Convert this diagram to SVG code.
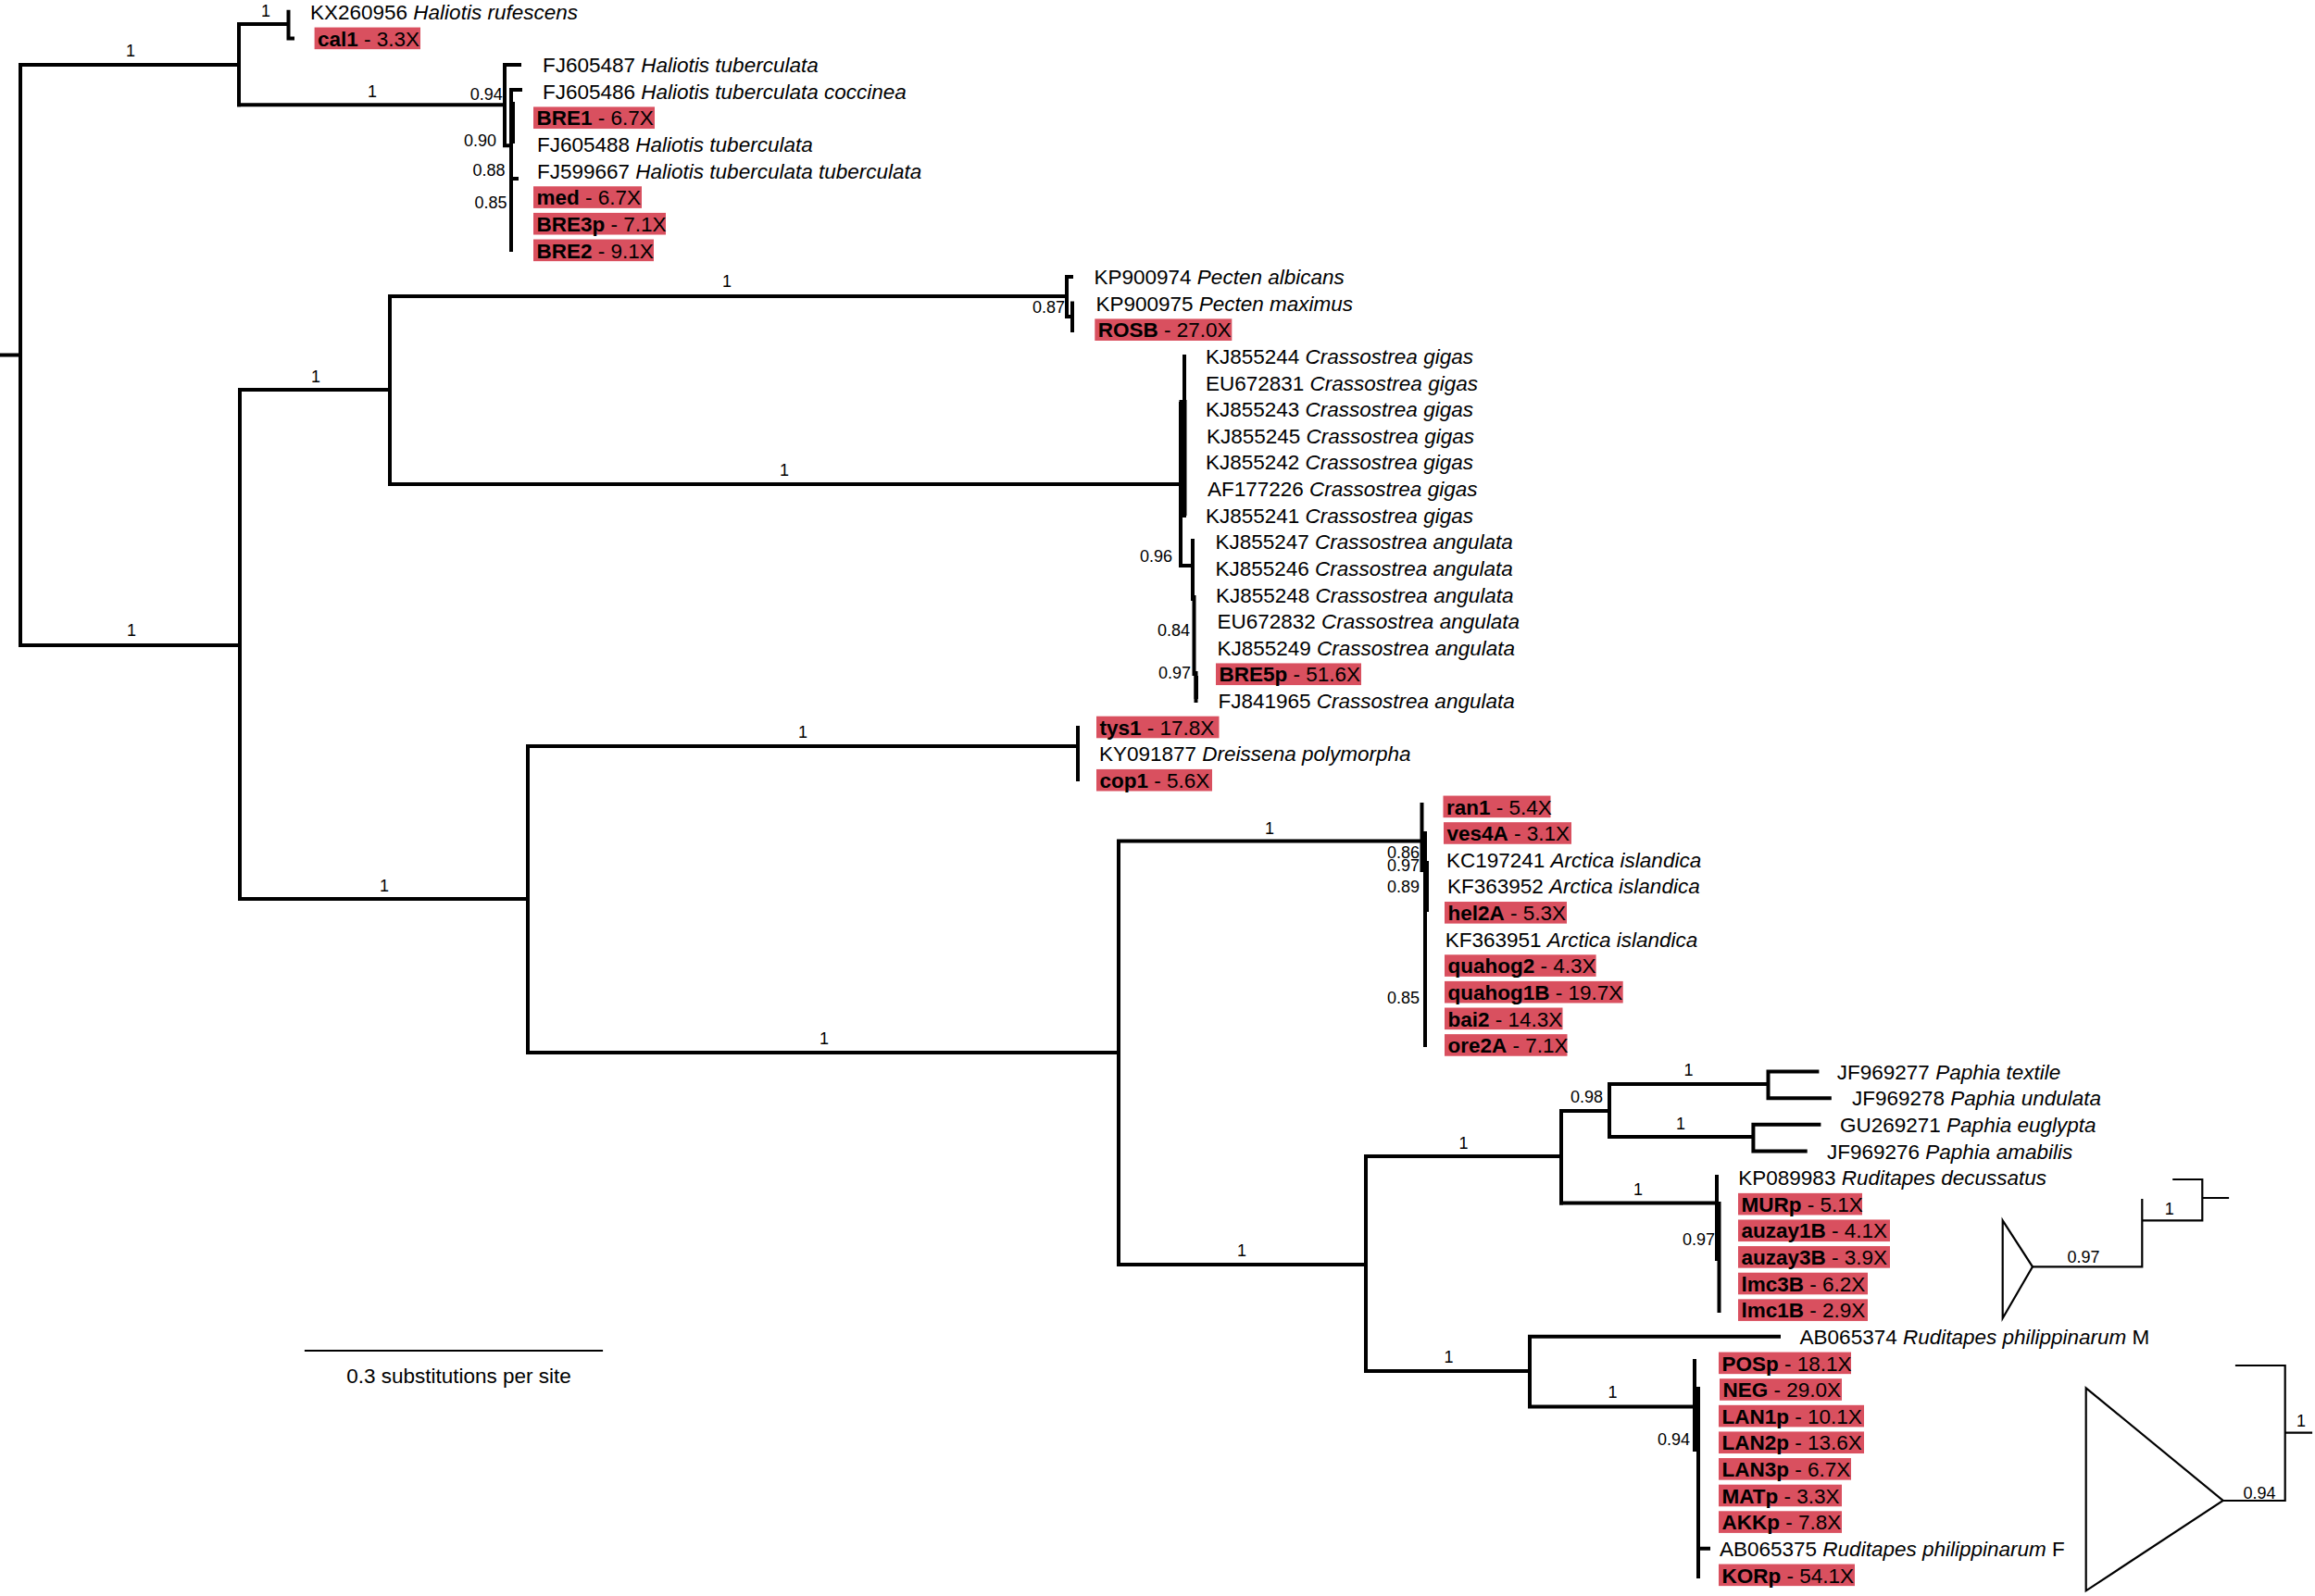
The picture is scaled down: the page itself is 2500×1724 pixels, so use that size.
<svg xmlns="http://www.w3.org/2000/svg" width="2500" height="1724" viewBox="0 0 2500 1724">
<style>
text{font-family:"Liberation Sans",Arial,Helvetica,sans-serif;fill:#000}
.t{font-size:22.5px}
.b{font-weight:bold}
.i{font-style:italic}
.s{font-size:18px}
.m{text-anchor:middle}
.e{text-anchor:end}
.hl{fill:#d9505f}
.br{fill:none;stroke:#000;stroke-width:4;stroke-linecap:square;stroke-linejoin:miter}
.th{fill:#000}
.lg{fill:none;stroke:#000;stroke-width:2.2;stroke-linecap:square}
</style>
<rect width="2500" height="1724" fill="#fff"/>

<g id="branches">
<path class="br" d="M0,383.5H22M22,70V697M22,70H258M22,697H259"/>
<path class="br" d="M258,26V113.3M258,26H311.5M311.5,12.75V41.4M311.5,41.4H316"/>
<path class="br" d="M258,113.3H545M545,70V157.3M545,70H561M545,157.3H552M552,97V270M552,97H562M552,193H558"/>
<rect class="th" x="550" y="110" width="6" height="45"/>
<path class="br" d="M259,421V971M259,421H421M421,320V523M421,320H1152"/>
<path class="br" d="M1152,299V342M1152,299H1157M1152,342H1158M1158,327.6V357"/>
<path class="br" d="M421,523H1275M1275,436V611M1279,385V557M1275,611H1288M1288,584V647M1289.5,645V728M1291.5,727V757"/>
<rect class="th" x="1273.5" y="432" width="8" height="125"/>
<rect class="th" x="1289.5" y="730" width="4.5" height="25"/>
<path class="br" d="M259,971H570M570,806V1137M570,806H1164M1164,786V842"/>
<path class="br" d="M570,1137H1208M1208,908.5V1366M1208,908.5H1535M1535.5,869V940M1539,900V1129"/>
<rect class="th" x="1537" y="930" width="6" height="55"/>
<path class="br" d="M1208,1366H1475M1475,1249V1481M1475,1249H1686M1686,1200V1299.5M1686,1200H1738M1738,1171V1228"/>
<path class="br" d="M1738,1171H1909.5M1909.5,1157.6V1186.2M1909.5,1157.6H1962.4M1909.5,1186.2H1975.8"/>
<path class="br" d="M1738,1228H1893.4M1893.4,1214.8V1243.4M1893.4,1214.8H1964.4M1893.4,1243.4H1949.7"/>
<path class="br" d="M1686,1299.5H1854M1854,1271V1360M1856.5,1300V1416"/>
<path class="br" d="M1475,1481H1652M1652,1443.75V1519.5M1652,1443.75H1921M1652,1519.5H1830M1830,1470V1520M1834,1520V1703M1834,1672.7H1845"/>
<rect class="th" x="1828" y="1498" width="8" height="70"/>
</g>

<g id="support-labels">
<text class="s m" x="141" y="60.5">1</text>
<text class="s m" x="287" y="18.2">1</text>
<text class="s m" x="402" y="104.8">1</text>
<text class="s m" x="142" y="687">1</text>
<text class="s m" x="341" y="412.5">1</text>
<text class="s m" x="785" y="309.5">1</text>
<text class="s m" x="847" y="513.5">1</text>
<text class="s m" x="415" y="962.5">1</text>
<text class="s m" x="867" y="797.3">1</text>
<text class="s m" x="890" y="1128">1</text>
<text class="s m" x="1371" y="900.5">1</text>
<text class="s m" x="1341" y="1356.5">1</text>
<text class="s m" x="1580.5" y="1240.8">1</text>
<text class="s m" x="1823.5" y="1161.5">1</text>
<text class="s m" x="1815" y="1219.5">1</text>
<text class="s m" x="1769" y="1290.5">1</text>
<text class="s m" x="1564.5" y="1471.5">1</text>
<text class="s m" x="1741.5" y="1509.5">1</text>
<text class="s e" x="542.7" y="108">0.94</text>
<text class="s e" x="536" y="158.2">0.90</text>
<text class="s e" x="545.5" y="190">0.88</text>
<text class="s e" x="547.5" y="224.8">0.85</text>
<text class="s e" x="1150" y="338.2">0.87</text>
<text class="s e" x="1266" y="607.2">0.96</text>
<text class="s e" x="1285" y="686.5">0.84</text>
<text class="s e" x="1286" y="733.2">0.97</text>
<text class="s e" x="1533" y="927">0.86</text>
<text class="s e" x="1533" y="941">0.97</text>
<text class="s e" x="1533" y="963.8">0.89</text>
<text class="s e" x="1533" y="1084">0.85</text>
<text class="s e" x="1731" y="1190.8">0.98</text>
<text class="s e" x="1852" y="1344.8">0.97</text>
<text class="s e" x="1825" y="1560.8">0.94</text>
</g>

<g id="leaves">
<g id="t01"><text class="t" x="335" y="20.95">KX260956 <tspan class="i">Haliotis rufescens</tspan></text></g>
<g id="t02"><rect class="hl" x="339.6" y="29.57" width="114.4" height="23.6"/><text class="t" x="343" y="49.57"><tspan class="b">cal1</tspan> - 3.3X</text></g>
<g id="t03"><text class="t" x="586" y="78.19">FJ605487 <tspan class="i">Haliotis tuberculata</tspan></text></g>
<g id="t04"><text class="t" x="586" y="106.81">FJ605486 <tspan class="i">Haliotis tuberculata coccinea</tspan></text></g>
<g id="t05"><rect class="hl" x="576" y="115.43" width="131" height="23.6"/><text class="t" x="579.5" y="135.43"><tspan class="b">BRE1</tspan> - 6.7X</text></g>
<g id="t06"><text class="t" x="580" y="164.05">FJ605488 <tspan class="i">Haliotis tuberculata</tspan></text></g>
<g id="t07"><text class="t" x="580" y="192.67">FJ599667 <tspan class="i">Haliotis tuberculata tuberculata</tspan></text></g>
<g id="t08"><rect class="hl" x="576" y="201.29" width="117" height="23.6"/><text class="t" x="579.5" y="221.29"><tspan class="b">med</tspan> - 6.7X</text></g>
<g id="t09"><rect class="hl" x="576" y="229.91" width="143" height="23.6"/><text class="t" x="579.5" y="249.91"><tspan class="b">BRE3p</tspan> - 7.1X</text></g>
<g id="t10"><rect class="hl" x="576" y="258.53" width="130" height="23.6"/><text class="t" x="579.5" y="278.53"><tspan class="b">BRE2</tspan> - 9.1X</text></g>
<g id="t11"><text class="t" x="1181.5" y="307.15">KP900974 <tspan class="i">Pecten albicans</tspan></text></g>
<g id="t12"><text class="t" x="1183.4" y="335.77">KP900975 <tspan class="i">Pecten maximus</tspan></text></g>
<g id="t13"><rect class="hl" x="1182.3" y="344.39" width="148" height="23.6"/><text class="t" x="1185.8" y="364.39"><tspan class="b">ROSB</tspan> - 27.0X</text></g>
<g id="t14"><text class="t" x="1302" y="393.01">KJ855244 <tspan class="i">Crassostrea gigas</tspan></text></g>
<g id="t15"><text class="t" x="1302" y="421.63">EU672831 <tspan class="i">Crassostrea gigas</tspan></text></g>
<g id="t16"><text class="t" x="1302" y="450.25">KJ855243 <tspan class="i">Crassostrea gigas</tspan></text></g>
<g id="t17"><text class="t" x="1303" y="478.87">KJ855245 <tspan class="i">Crassostrea gigas</tspan></text></g>
<g id="t18"><text class="t" x="1302" y="507.49">KJ855242 <tspan class="i">Crassostrea gigas</tspan></text></g>
<g id="t19"><text class="t" x="1304" y="536.11">AF177226 <tspan class="i">Crassostrea gigas</tspan></text></g>
<g id="t20"><text class="t" x="1302" y="564.73">KJ855241 <tspan class="i">Crassostrea gigas</tspan></text></g>
<g id="t21"><text class="t" x="1312.4" y="593.35">KJ855247 <tspan class="i">Crassostrea angulata</tspan></text></g>
<g id="t22"><text class="t" x="1312.4" y="621.97">KJ855246 <tspan class="i">Crassostrea angulata</tspan></text></g>
<g id="t23"><text class="t" x="1313" y="650.59">KJ855248 <tspan class="i">Crassostrea angulata</tspan></text></g>
<g id="t24"><text class="t" x="1314.5" y="679.21">EU672832 <tspan class="i">Crassostrea angulata</tspan></text></g>
<g id="t25"><text class="t" x="1314.5" y="707.83">KJ855249 <tspan class="i">Crassostrea angulata</tspan></text></g>
<g id="t26"><rect class="hl" x="1313" y="716.45" width="157" height="23.6"/><text class="t" x="1316.5" y="736.45"><tspan class="b">BRE5p</tspan> - 51.6X</text></g>
<g id="t27"><text class="t" x="1315.5" y="765.07">FJ841965 <tspan class="i">Crassostrea angulata</tspan></text></g>
<g id="t28"><rect class="hl" x="1184" y="773.69" width="132.5" height="23.6"/><text class="t" x="1187.5" y="793.69"><tspan class="b">tys1</tspan> - 17.8X</text></g>
<g id="t29"><text class="t" x="1187" y="822.31">KY091877 <tspan class="i">Dreissena polymorpha</tspan></text></g>
<g id="t30"><rect class="hl" x="1184" y="830.93" width="125" height="23.6"/><text class="t" x="1187.5" y="850.93"><tspan class="b">cop1</tspan> - 5.6X</text></g>
<g id="t31"><rect class="hl" x="1558.5" y="859.55" width="116" height="23.6"/><text class="t" x="1562" y="879.55"><tspan class="b">ran1</tspan> - 5.4X</text></g>
<g id="t32"><rect class="hl" x="1559" y="888.17" width="138" height="23.6"/><text class="t" x="1562.5" y="908.17"><tspan class="b">ves4A</tspan> - 3.1X</text></g>
<g id="t33"><text class="t" x="1562" y="936.79">KC197241 <tspan class="i">Arctica islandica</tspan></text></g>
<g id="t34"><text class="t" x="1563" y="965.41">KF363952 <tspan class="i">Arctica islandica</tspan></text></g>
<g id="t35"><rect class="hl" x="1560" y="974.03" width="132" height="23.6"/><text class="t" x="1563.5" y="994.03"><tspan class="b">hel2A</tspan> - 5.3X</text></g>
<g id="t36"><text class="t" x="1560.7" y="1022.65">KF363951 <tspan class="i">Arctica islandica</tspan></text></g>
<g id="t37"><rect class="hl" x="1560" y="1031.27" width="163.6" height="23.6"/><text class="t" x="1563.5" y="1051.27"><tspan class="b">quahog2</tspan> - 4.3X</text></g>
<g id="t38"><rect class="hl" x="1560" y="1059.89" width="192.7" height="23.6"/><text class="t" x="1563.5" y="1079.89"><tspan class="b">quahog1B</tspan> - 19.7X</text></g>
<g id="t39"><rect class="hl" x="1560" y="1088.51" width="127.5" height="23.6"/><text class="t" x="1563.5" y="1108.51"><tspan class="b">bai2</tspan> - 14.3X</text></g>
<g id="t40"><rect class="hl" x="1560" y="1117.13" width="132.5" height="23.6"/><text class="t" x="1563.5" y="1137.13"><tspan class="b">ore2A</tspan> - 7.1X</text></g>
<g id="t41"><text class="t" x="1983.8" y="1165.75">JF969277 <tspan class="i">Paphia textile</tspan></text></g>
<g id="t42"><text class="t" x="2000" y="1194.37">JF969278 <tspan class="i">Paphia undulata</tspan></text></g>
<g id="t43"><text class="t" x="1987" y="1222.99">GU269271 <tspan class="i">Paphia euglypta</tspan></text></g>
<g id="t44"><text class="t" x="1973" y="1251.61">JF969276 <tspan class="i">Paphia amabilis</tspan></text></g>
<g id="t45"><text class="t" x="1877.3" y="1280.23">KP089983 <tspan class="i">Ruditapes decussatus</tspan></text></g>
<g id="t46"><rect class="hl" x="1877" y="1288.85" width="134" height="23.6"/><text class="t" x="1880.5" y="1308.85"><tspan class="b">MURp</tspan> - 5.1X</text></g>
<g id="t47"><rect class="hl" x="1877" y="1317.47" width="164" height="23.6"/><text class="t" x="1880.5" y="1337.47"><tspan class="b">auzay1B</tspan> - 4.1X</text></g>
<g id="t48"><rect class="hl" x="1877" y="1346.09" width="164" height="23.6"/><text class="t" x="1880.5" y="1366.09"><tspan class="b">auzay3B</tspan> - 3.9X</text></g>
<g id="t49"><rect class="hl" x="1877" y="1374.71" width="140" height="23.6"/><text class="t" x="1880.5" y="1394.71"><tspan class="b">lmc3B</tspan> - 6.2X</text></g>
<g id="t50"><rect class="hl" x="1877" y="1403.33" width="140" height="23.6"/><text class="t" x="1880.5" y="1423.33"><tspan class="b">lmc1B</tspan> - 2.9X</text></g>
<g id="t51"><text class="t" x="1943.6" y="1451.95">AB065374 <tspan class="i">Ruditapes philippinarum</tspan> M</text></g>
<g id="t52"><rect class="hl" x="1856" y="1460.57" width="143" height="23.6"/><text class="t" x="1859.5" y="1480.57"><tspan class="b">POSp</tspan> - 18.1X</text></g>
<g id="t53"><rect class="hl" x="1857" y="1489.19" width="132" height="23.6"/><text class="t" x="1860.5" y="1509.19"><tspan class="b">NEG</tspan> - 29.0X</text></g>
<g id="t54"><rect class="hl" x="1856" y="1517.81" width="157" height="23.6"/><text class="t" x="1859.5" y="1537.81"><tspan class="b">LAN1p</tspan> - 10.1X</text></g>
<g id="t55"><rect class="hl" x="1856" y="1546.43" width="157" height="23.6"/><text class="t" x="1859.5" y="1566.43"><tspan class="b">LAN2p</tspan> - 13.6X</text></g>
<g id="t56"><rect class="hl" x="1856" y="1575.05" width="143" height="23.6"/><text class="t" x="1859.5" y="1595.05"><tspan class="b">LAN3p</tspan> - 6.7X</text></g>
<g id="t57"><rect class="hl" x="1856" y="1603.67" width="133" height="23.6"/><text class="t" x="1859.5" y="1623.67"><tspan class="b">MATp</tspan> - 3.3X</text></g>
<g id="t58"><rect class="hl" x="1856" y="1632.29" width="133" height="23.6"/><text class="t" x="1859.5" y="1652.29"><tspan class="b">AKKp</tspan> - 7.8X</text></g>
<g id="t59"><text class="t" x="1857" y="1680.91">AB065375 <tspan class="i">Ruditapes philippinarum</tspan> F</text></g>
<g id="t60"><rect class="hl" x="1856" y="1689.53" width="147" height="23.6"/><text class="t" x="1859.5" y="1709.53"><tspan class="b">KORp</tspan> - 54.1X</text></g>
</g>

<g id="scale-bar">
<path class="lg" d="M330,1459H650"/>
<text class="t m" x="495.5" y="1494">0.3 substitutions per site</text>
</g>

<g id="legend-1">
<path class="lg" d="M2162.7,1318.3L2195,1368.3L2162.7,1424Z"/>
<path class="lg" d="M2195,1368.3H2313.3V1296M2313.3,1318.3H2378.3M2378.3,1274V1318.3M2347.3,1274H2378.3M2378.3,1294H2406"/>
<text class="s m" x="2250" y="1363.8">0.97</text>
<text class="s m" x="2342.7" y="1312">1</text>
</g>

<g id="legend-2">
<path class="lg" d="M2252.7,1499.3L2400.7,1621L2252.7,1718.3Z"/>
<path class="lg" d="M2400.7,1621H2467.7V1475H2415M2467.7,1547.7H2496"/>
<text class="s m" x="2440" y="1619">0.94</text>
<text class="s m" x="2485" y="1540.5">1</text>
</g>
</svg>
